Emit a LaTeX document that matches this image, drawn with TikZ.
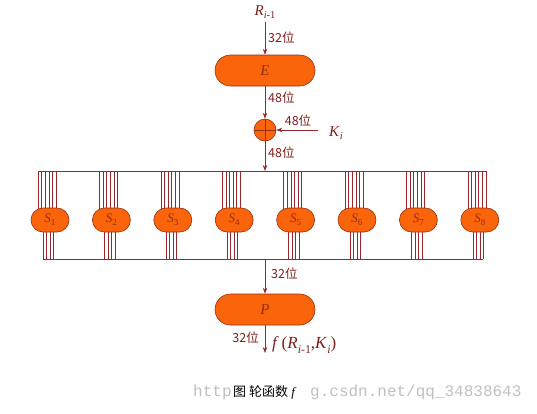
\documentclass[tikz,border=0pt]{standalone}
\usepackage{fontspec}
\setmainfont{Liberation Serif}
\newfontfamily\cjk{Noto Sans CJK SC}
\newfontfamily\wmfont{Liberation Mono}
\usetikzlibrary{arrows.meta,shapes.misc}
\definecolor{org}{RGB}{250,100,10}
\definecolor{brd}{RGB}{150,45,20}
\definecolor{ln}{RGB}{150,40,45}
\definecolor{txt}{RGB}{125,30,30}
\newcommand{\itsub}[2]{\textit{#1}\raisebox{-0.55ex}{\scalebox{0.7}{#2}}}
\begin{document}
\begin{tikzpicture}[x=1pt,y=-1pt,
  arr/.style={draw=ln,line width=0.8pt,-{Stealth[length=6pt,width=4.5pt]}},
  bus/.style={draw=ln,line width=0.6pt},
  bigbox/.style={rounded rectangle,fill=org,draw=brd,line width=0.6pt,minimum width=100pt,minimum height=31pt,inner sep=0pt,font=\itshape\fontsize{15}{15}\selectfont,text=brd},
  sbox/.style={rounded rectangle,fill=org,draw=brd,line width=0.6pt,minimum width=38pt,minimum height=24pt,inner sep=0pt,font=\fontsize{13}{13}\selectfont,text=brd},
  bits/.style={font=\cjk\fontsize{12.5}{12.5}\selectfont,text=txt,inner sep=0pt},
  lbl/.style={text=txt,inner sep=0pt},
  wm/.style={text=black!25,inner sep=0pt,anchor=west,font=\wmfont\fontsize{16}{16}\selectfont}]
\useasboundingbox (0,0) rectangle (537,413);
% top part
\node[lbl,font=\fontsize{15}{15}\selectfont] (R) at (265,12) {\itsub{R}{\textit{i}-1}};
\node[bigbox] (E) at (265,70.5) {E};
\node[circle,fill=org,draw=brd,line width=0.6pt,minimum size=22pt,inner sep=0pt] (X) at (265,130) {};
\draw[brd,line width=0.7pt] (X.north) -- (X.south) (X.west) -- (X.east);
\coordinate (Ks) at (318,130);
\node[lbl,font=\fontsize{15}{15}\selectfont] (K) at (336,133) {\itsub{K}{\textit{i}}};
\coordinate (top) at (265,171);
\draw[arr] (265,22) -- (E.north);
\node[bits,anchor=west] (b1) at (268,38) {32位};
\draw[arr] (E.south) -- (X.north);
\node[bits,anchor=west] (b2) at (268,98) {48位};
\draw[arr] (Ks) -- (X.east);
\node[bits] (b3) at (298,121) {48位};
\draw[arr] (X.south) -- (top);
\node[bits,anchor=west] (b4) at (268,153) {48位};
% buses
\coordinate (tl) at (38,171);
\coordinate (tr) at (486,171);
\coordinate (bl) at (43,259);
\coordinate (br) at (483.3,259);
\draw[bus] (tl) -- (tr);
\draw[bus] (bl) -- (br);
\foreach \i in {1,...,8}{
  \pgfmathsetmacro{\cx}{50+(\i-1)*61.4}
  \foreach \k in {0,...,5}{
    \draw[bus] ({\cx-12+\k*3.6},171) -- ({\cx-12+\k*3.6},220);
  }
  \foreach \k in {0,...,3}{
    \draw[bus] ({\cx-7+\k*3.5},220) -- ({\cx-7+\k*3.5},259);
  }
  \node[sbox] (S\i) at (\cx,220) {\itsub{S}{\i}};
}
% bottom part
\coordinate (bot) at (265,259);
\node[bigbox] (P) at (265,309.5) {P};
\coordinate (out) at (265,353);
\draw[arr] (bot) -- (P.north);
\node[bits,anchor=west] (b5) at (271,274) {32位};
\draw[arr] (P.south) -- (out);
\node[bits,anchor=east] (b6) at (259,338) {32位};
\node[lbl,anchor=west,font=\fontsize{17}{17}\selectfont] (f) at (272,345) {\textit{f}\,(\itsub{R}{\textit{i}-1},\itsub{K}{\textit{i}})};
% caption and watermark
\node[wm] (wm1) at (193,392) {http};
\node[wm] (wm2) at (310,392) {g.csdn.net/qq\_34838643};
\node[inner sep=0pt,anchor=west,font=\fontsize{13}{13}\selectfont] (cap) at (233,392) {{\cjk 图 轮函数} \textit{f}};
\end{tikzpicture}
\end{document}
